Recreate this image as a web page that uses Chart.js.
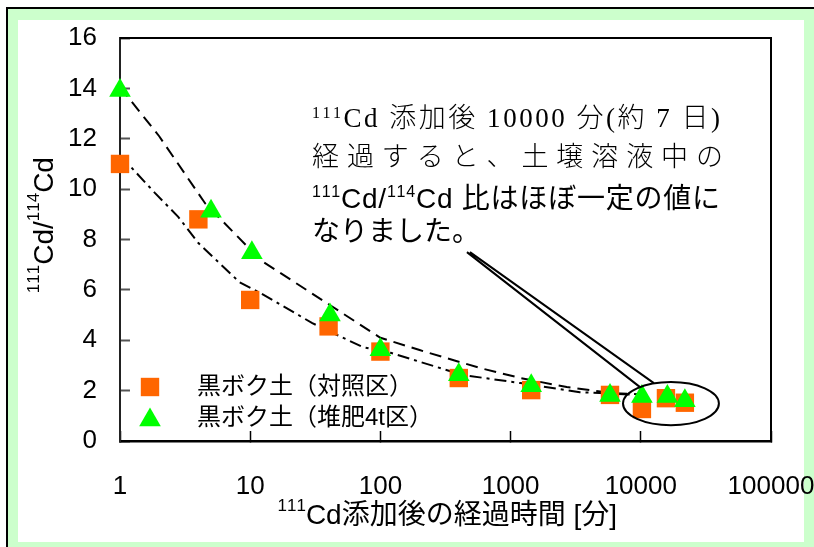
<!DOCTYPE html>
<html lang="ja">
<head>
<meta charset="utf-8">
<script src="https://cdn.jsdelivr.net/npm/chart.js@4.4.0/dist/chart.umd.min.js"></script>
<style>
  html, body { margin: 0; padding: 0; background: #fff; }
  #wrap { position: relative; width: 814px; height: 547px; overflow: hidden; }
  canvas { display: block; }
</style>
</head>
<body>
<div id="wrap"><canvas id="chart" width="814" height="547"></canvas></div>
<script>
// Elapsed time after 111Cd addition [min] and measured 111Cd/114Cd ratio
const controlTimes  = [1, 4, 10, 40, 100, 400, 1440, 5800, 10200, 15600, 21800];
const controlRatios = [11.0, 8.8, 5.6, 4.55, 3.55, 2.5, 2.02, 1.83, 1.27, 1.7, 1.52];
const compostTimes  = [1, 5, 10.3, 41, 100, 400, 1440, 5800, 10200, 16000, 21800];
const compostRatios = [13.92, 9.12, 7.47, 5.0, 3.62, 2.63, 2.19, 1.81, 1.77, 1.77, 1.6];

// Trend curves drawn through each series
const controlTrendTimes  = [1, 1.86, 2.8, 4, 8.3, 12, 30, 73, 120, 430, 1190, 3400, 8200];
const controlTrendRatios = [11.35, 9.84, 8.9, 7.86, 6.3, 5.87, 4.68, 3.73, 3.5, 2.62, 2.3, 1.94, 1.85];
const compostTrendTimes  = [1, 2, 4.5, 9.6, 12, 40, 100, 200, 580, 1190, 2700, 6100, 10000];
const compostTrendRatios = [14.05, 12.1, 9.44, 7.7, 7.18, 5.43, 4.1, 3.61, 2.9, 2.5, 2.14, 1.9, 1.85];

// Axis ticks
const xTickValues = [1, 10, 100, 1000, 10000, 100000];
const yTickValues = [0, 2, 4, 6, 8, 10, 12, 14, 16];

const seriesLabels = ['黒ボク土（対照区）', '黒ボク土（堆肥4t区）'];
const orange = '#FF6600';
const green = '#00FF00';

const pairs = (xs, ys) => xs.map((x, i) => ({ x, y: ys[i] }));

const TICK_FONT = "'Liberation Sans Narrow', 'Liberation Sans', 'Noto Sans CJK JP', sans-serif";
const GOTHIC = "'Liberation Sans', 'Noto Sans CJK JP', sans-serif";
const GOTHIC_NARROW = "'Liberation Sans Narrow', 'Liberation Sans', 'Noto Sans CJK JP', sans-serif";
const MINCHO = "'Liberation Serif', 'Noto Sans CJK JP', serif";

// Draw a sequence of text runs char by char; optionally spread to a target width
function drawRuns(ctx, x, baseline, runs, targetWidth) {
  const items = [];
  for (const r of runs) {
    ctx.font = r.font;
    for (const ch of Array.from(r.t)) {
      items.push({ ch, font: r.font, w: ctx.measureText(ch).width, dy: r.dy || 0 });
    }
  }
  const natural = items.reduce((s, it) => s + it.w, 0);
  const gap = targetWidth ? (targetWidth - natural) / (items.length - 1) : 0;
  let cx = x;
  for (const it of items) {
    ctx.font = it.font;
    ctx.fillText(it.ch, cx, baseline + it.dy);
    cx += it.w + gap;
  }
  return natural + gap * (items.length - 1);
}
function runsWidth(ctx, runs) {
  let w = 0;
  for (const r of runs) { ctx.font = r.font; w += ctx.measureText(r.t).width; }
  return w;
}

// Outer frame with the pale green band
const framePlugin = {
  id: 'frame',
  beforeDraw(chart) {
    const { ctx, width, height } = chart;
    ctx.save();
    ctx.fillStyle = '#ffffff';
    ctx.fillRect(0, 0, width, height);
    ctx.fillStyle = '#ccffcc';
    ctx.fillRect(8, 9, width - 8, height - 9);
    ctx.fillStyle = '#ffffff';
    ctx.fillRect(18, 20, 786, 522);
    ctx.strokeStyle = '#000';
    ctx.lineWidth = 2;
    ctx.beginPath();
    ctx.moveTo(7, height);
    ctx.lineTo(7, 8);
    ctx.lineTo(width, 8);
    ctx.stroke();
    ctx.restore();
  }
};

// Top and right edges of the plot box
const plotBoxPlugin = {
  id: 'plotBox',
  beforeDatasetsDraw(chart) {
    const { ctx, chartArea: a } = chart;
    ctx.save();
    ctx.strokeStyle = '#000';
    ctx.lineWidth = 2;
    ctx.beginPath();
    ctx.moveTo(a.left, a.top);
    ctx.lineTo(a.right, a.top);
    ctx.lineTo(a.right, a.bottom);
    ctx.stroke();
    ctx.restore();
  }
};

// Axis titles with superscript mass numbers
const axisTitlePlugin = {
  id: 'axisTitles',
  afterDraw(chart) {
    const ctx = chart.ctx;
    ctx.save();
    ctx.fillStyle = '#000';
    ctx.textBaseline = 'alphabetic';
    const main = "28px " + GOTHIC;
    const sup = "17px " + GOTHIC;
    // y title (rotated)
    const yRuns = [
      { t: '111', font: sup, dy: -14 }, { t: 'Cd/', font: main },
      { t: '114', font: sup, dy: -14 }, { t: 'Cd', font: main }
    ];
    ctx.translate(53, 227);
    ctx.rotate(-Math.PI / 2);
    drawRuns(ctx, -runsWidth(ctx, yRuns) / 2, 0, yRuns);
    ctx.setTransform(1, 0, 0, 1, 0, 0);
    // x title
    const xRuns = [
      { t: '111', font: sup, dy: -13 }, { t: 'Cd添加後の経過時間 [分]', font: main }
    ];
    drawRuns(ctx, 446 - runsWidth(ctx, xRuns) / 2, 524, xRuns);
    ctx.restore();
  }
};

// Legend inside the plot area
const legendPlugin = {
  id: 'innerLegend',
  afterDraw(chart) {
    const ctx = chart.ctx;
    const rows = [
      { ds: chart.data.datasets[1], y: 387 },
      { ds: chart.data.datasets[0], y: 418 }
    ];
    ctx.save();
    for (const r of rows) {
      ctx.fillStyle = r.ds.backgroundColor;
      ctx.strokeStyle = r.ds.backgroundColor;
      Chart.helpers.drawPoint(ctx, {
        pointStyle: r.ds.pointStyle, radius: r.ds.pointRadius, rotation: 0, borderWidth: 0
      }, 150, r.ds.pointStyle === 'triangle' ? r.y + 2 : r.y);
      ctx.fillStyle = '#000';
      ctx.font = "24px " + GOTHIC;
      ctx.textBaseline = 'middle';
      ctx.textAlign = 'left';
      ctx.fillText(r.ds.label, 197, r.y);
    }
    ctx.restore();
  }
};

// Note text, callout lines and ellipse round the late samples
const notePlugin = {
  id: 'note',
  afterDatasetsDraw(chart) {
    const ctx = chart.ctx;
    const xs = chart.scales.x, ys = chart.scales.y;
    ctx.save();
    ctx.fillStyle = '#000';
    ctx.textBaseline = 'alphabetic';
    const m = "300 27px " + MINCHO;
    const mSup = "16px " + MINCHO;
    drawRuns(ctx, 312, 127, [
      { t: '111', font: mSup, dy: -9 },
      { t: 'Cd 添加後 10000 分(約 7 日)', font: m }
    ], 408);
    drawRuns(ctx, 312, 166, [{ t: '経過すると、土壌溶液中の', font: m }], 411);
    const g = "28px " + GOTHIC_NARROW;
    const gSup = "16px " + GOTHIC_NARROW;
    drawRuns(ctx, 312, 208, [
      { t: '111', font: gSup, dy: -11 }, { t: 'Cd/', font: g },
      { t: '114', font: gSup, dy: -11 }, { t: 'Cd 比はほぼ一定の値に', font: g }
    ], 408);
    drawRuns(ctx, 312, 241, [{ t: 'なりました。', font: "28px " + GOTHIC }]);

    // callout
    ctx.strokeStyle = '#000';
    ctx.lineWidth = 2;
    const sx = xs.getPixelForValue(462), sy = ys.getPixelForValue(7.5);
    ctx.beginPath();
    ctx.moveTo(sx, sy);
    ctx.lineTo(xs.getPixelForValue(9860), ys.getPixelForValue(2.14));
    ctx.moveTo(sx + 3, sy);
    ctx.lineTo(xs.getPixelForValue(12600), ys.getPixelForValue(2.3));
    ctx.stroke();
    // ellipse
    const l = xs.getPixelForValue(7300), r = xs.getPixelForValue(39800);
    const t = ys.getPixelForValue(2.34), b = ys.getPixelForValue(0.63);
    ctx.beginPath();
    ctx.ellipse((l + r) / 2, (t + b) / 2, (r - l) / 2, (b - t) / 2, 0, 0, Math.PI * 2);
    ctx.stroke();
    ctx.restore();
  }
};

const chart = new Chart(document.getElementById('chart'), {
  type: 'scatter',
  data: {
    datasets: [
      {
        label: seriesLabels[1], data: pairs(compostTimes, compostRatios),
        pointStyle: 'triangle', pointRadius: 12.5, pointHoverRadius: 12.5,
        backgroundColor: green, borderColor: green, borderWidth: 0, order: 0, clip: false
      },
      {
        label: seriesLabels[0], data: pairs(controlTimes, controlRatios),
        pointStyle: 'rect', pointRadius: 13, pointHoverRadius: 13,
        backgroundColor: orange, borderColor: orange, borderWidth: 0, order: 1, clip: false
      },
      {
        label: 'compost trend', data: pairs(compostTrendTimes, compostTrendRatios),
        showLine: true, pointRadius: 0, borderColor: '#000', borderWidth: 2,
        borderDash: [12, 7], tension: 0, order: 2
      },
      {
        label: 'control trend', data: pairs(controlTrendTimes, controlTrendRatios),
        showLine: true, pointRadius: 0, borderColor: '#000', borderWidth: 2,
        borderDash: [12, 5, 3, 5], tension: 0, order: 3
      }
    ]
  },
  options: {
    responsive: false,
    animation: false,
    devicePixelRatio: 1,
    layout: { padding: { left: 0, top: 38, right: 43, bottom: 0 } },
    plugins: { legend: { display: false }, tooltip: { enabled: false } },
    scales: {
      x: {
        type: 'logarithmic', min: 1, max: 100000,
        afterBuildTicks: s => { s.ticks = xTickValues.map(v => ({ value: v })); },
        afterFit: s => { s.height = 106; s.paddingLeft = 0; s.paddingRight = 0; },
        ticks: {
          callback: v => String(v), color: '#000', padding: 40,
          maxRotation: 0, autoSkip: false, font: { family: TICK_FONT, size: 26 }
        },
        grid: { drawOnChartArea: false, tickLength: -10, tickColor: '#000', tickWidth: 1.5 },
        border: { display: true, color: '#000', width: 2.5 }
      },
      y: {
        type: 'linear', min: 0, max: 16,
        afterBuildTicks: s => { s.ticks = yTickValues.map(v => ({ value: v })); },
        afterFit: s => { s.width = 120; s.paddingTop = 0; s.paddingBottom = 0; },
        ticks: {
          color: '#000', padding: 33, autoSkip: false,
          font: { family: TICK_FONT, size: 26 }
        },
        grid: { drawOnChartArea: false, tickLength: -10, tickColor: '#555', tickWidth: 2 },
        border: { display: true, color: '#222', width: 2 }
      }
    }
  },
  plugins: [framePlugin, plotBoxPlugin, notePlugin, axisTitlePlugin, legendPlugin]
});
</script>
</body>
</html>
